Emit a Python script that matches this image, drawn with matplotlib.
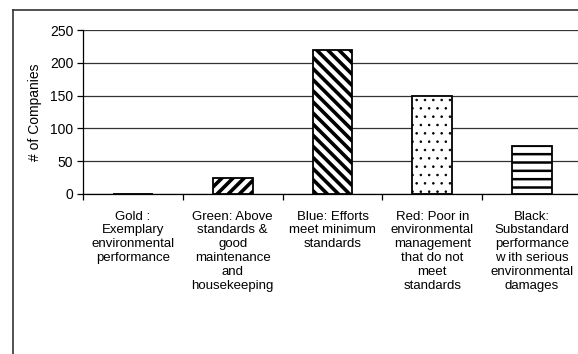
import numpy as np
import matplotlib.pyplot as plt
from matplotlib.lines import Line2D

plt.rcParams['font.family'] = ['Liberation Sans', 'DejaVu Sans']
plt.rcParams['hatch.linewidth'] = 2.0
plt.rcParams['hatch.color'] = 'black'

# rating groups and company counts
categories = [
    "Gold :\nExemplary\nenvironmental\nperformance",
    "Green: Above\nstandards &\ngood\nmaintenance\nand\nhousekeeping",
    "Blue: Efforts\nmeet minimum\nstandards",
    "Red: Poor in\nenvironmental\nmanagement\nthat do not\nmeet\nstandards",
    "Black:\nSubstandard\nperformance\nw ith serious\nenvironmental\ndamages",
]
companies = [0, 24, 220, 150, 73]
hatches = ['', '///', '\\\\\\', '..', '--']
hatch_widths = [1.0, 2.6, 2.6, 0.6, 1.8]
y_ticks = [0, 50, 100, 150, 200, 250]

fig = plt.figure(figsize=(5.78, 3.54), dpi=100)
ax = fig.add_axes([83/578, 1 - 194/354, 499/578, 164/354])

x = np.arange(len(categories))
bars = ax.bar(x, companies, width=0.4, color='white', edgecolor='black', linewidth=1.3, zorder=3)
for b, h, hw in zip(bars, hatches, hatch_widths):
    b.set_hatch(h)
    if hasattr(b, 'set_hatch_linewidth'):
        b.set_hatch_linewidth(hw)

ax.set_xlim(-0.5, len(categories) - 0.5)
ax.set_ylim(0, 250)
ax.set_yticks(y_ticks)
ax.yaxis.grid(True, color='#333333', linewidth=0.9)
ax.set_axisbelow(True)
ax.tick_params(axis='y', direction='out', length=4, width=0.9, labelsize=10, pad=3)

# category labels sit between the boundary ticks
ax.set_xticks(x)
ax.set_xticklabels(categories, fontsize=9.5, linespacing=1.2)
ax.tick_params(axis='x', which='major', length=0, pad=12)
ax.set_xticks(np.arange(-0.5, len(categories)), minor=True)
ax.tick_params(axis='x', which='minor', direction='out', length=4, width=0.9)

for s in ['top', 'right']:
    ax.spines[s].set_visible(False)
ax.spines['left'].set_linewidth(0.9)
ax.spines['bottom'].set_linewidth(0.9)

ax.set_ylabel('# of Companies', fontsize=10, labelpad=6)

# chart area border (top and left edges)
fig.add_artist(Line2D([13/578, 1], [1 - 10/354, 1 - 10/354], color='#333333', linewidth=1.2))
fig.add_artist(Line2D([13/578, 13/578], [0, 1 - 10/354], color='#333333', linewidth=1.2))

fig.savefig('out.png', dpi=100)
